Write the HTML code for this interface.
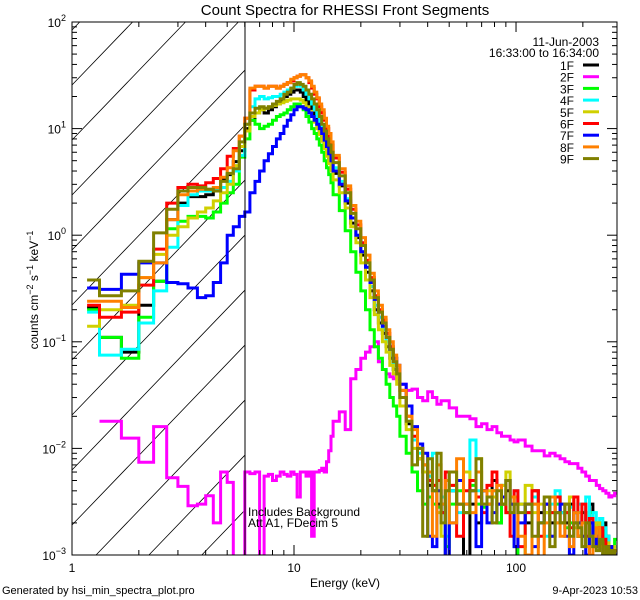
<!DOCTYPE html>
<html><head><meta charset="utf-8"><style>
html,body{margin:0;padding:0;background:#fff;width:640px;height:600px;overflow:hidden;}
svg{display:block;font-family:"Liberation Sans",sans-serif;}
</style></head><body>
<svg id="chart" width="640" height="600" viewBox="0 0 640 600" xmlns="http://www.w3.org/2000/svg">
<rect x="0" y="0" width="640" height="600" fill="#fff"/>
<defs>
<clipPath id="plotclip"><rect x="72" y="22" width="545" height="533"/></clipPath>
</defs>
<text x="345" y="15" font-size="15" text-anchor="middle">Count Spectra for RHESSI Front Segments</text>
<g id="hatch"></g>
<g id="series" clip-path="url(#plotclip)"></g>
<g id="axes"></g>
<text x="345" y="587" font-size="12" text-anchor="middle">Energy (keV)</text>
<text transform="translate(38,290) rotate(-90)" font-size="12" text-anchor="middle">counts cm<tspan baseline-shift="super" font-size="9">−2</tspan> s<tspan baseline-shift="super" font-size="9">−1</tspan> keV<tspan baseline-shift="super" font-size="9">−1</tspan></text>
<text x="2" y="594" font-size="11">Generated by hsi_min_spectra_plot.pro</text>
<text x="638" y="594" font-size="11" text-anchor="end">9-Apr-2023 10:53</text>
<text x="248" y="516" font-size="12">Includes Background</text>
<text x="248" y="527" font-size="12">Att A1, FDecim 5</text>
<g id="legend"></g>
</svg>
<script>
const edges=[1.17,1.33,1.67,2,2.33,2.67,3,3.33,3.67,4,4.33,4.67,5,5.33,5.67,6,6.33,6.67,7,7.33,7.67,8,8.33,8.67,9,9.33,9.67,10,10.33,10.67,11,11.33,11.67,12,12.33,12.67,13,13.33,13.67,14,14.33,14.67,15,16,17,18,19,20,21,22,23,24,25,26,27,28,29,30,32,34,36,38,40,42,44,46,48,50,54,58,62,66,70,74,78,82,86,90,94,98,102,110,118,126,134,142,150,158,166,174,182,190,198,206,214,222,230,238,246,254,262,270,278,286];
const seriesNames=["1F","2F","3F","4F","5F","6F","7F","8F","9F"];
const seriesColors=["#000000","#ff00ff","#00ff00","#00ffff","#d0d000","#ff0000","#0000ff","#ff8000","#808000"];
const s1F=[0.21,0.11,0.08,0.22,0.37,1.4,2.0,2.3,2.3,2.4,2.6,3.3,3.7,4.9,6.2,
10,12,14,15,14,15,16,17,18,20,21,22,23,23,22,20,18,16,14,12.5,11,9.5,8.5,7.3,6.2,5.3,4.5,
3.8,2.9,2.0,1.3,0.95,0.65,0.45,0.3,0.2,0.15,0.12,0.09,0.07,0.055,0.045,
0.03,0.017,0.012,0.008,0.006,0.0045,0.004,0.003,0.0025,0.0009,
0.004,0.003,0.0008,0.003,0.002,0.004,0.003,0.005,0.002,0.003,0.004,0.003,0.0035,
0.003,0.002,0.004,0.0025,0.003,0.002,0.0035,0.0025,0.002,0.003,0.002,0.0015,0.0025,0.002,0.003,0.0015,0.002,0.0012,0.002,0.0015,0.001,0.0012,0.001];
const s2F=[null,0.018,0.0125,0.0074,0.016,0.0053,0.0044,0.0029,0.003,0.0036,0.002,0.006,0.0048,0.0008,0.0009,
0.006,0.0058,0.006,0.0006,0.0055,0.0057,0.005,0.0055,0.006,0.0057,0.0055,0.006,0.0057,0.0035,0.006,0.006,0.0055,0.006,0.0015,0.006,0.006,0.0062,0.0065,0.006,0.0075,0.0095,0.013,
0.018,0.022,0.015,0.045,0.055,0.07,0.08,0.09,0.1,0.065,0.055,0.05,0.047,0.045,0.046,
0.04,0.035,0.036,0.03,0.028,0.034,0.03,0.026,0.028,0.028,
0.024,0.02,0.02,0.019,0.016,0.017,0.015,0.016,0.014,0.013,0.013,0.012,0.0115,
0.012,0.0105,0.0095,0.0095,0.0085,0.009,0.0085,0.008,0.0075,0.0072,0.0072,0.0065,0.006,0.0055,0.005,0.005,0.0045,0.0042,0.004,0.0038,0.0035,0.0036,0.0038];
const s3F=[0.2,0.11,0.07,0.17,0.37,1.15,1.35,1.5,1.5,1.45,1.65,2.0,2.5,3.0,5.4,
8,12,11,10,10.5,11,12,13,13.5,14,15,16,17,17,16,15,13,11.5,10,9,8,7,6,5,4.3,3.7,3.1,
2.4,1.7,1.1,0.7,0.45,0.3,0.2,0.13,0.09,0.07,0.055,0.04,0.03,0.025,0.02,
0.013,0.009,0.006,0.004,0.003,0.0035,0.003,0.0028,0.0025,0.0012,
0.003,0.004,0.0025,0.0045,0.003,0.0028,0.0035,0.004,0.002,0.003,0.0025,0.003,0.0012,
0.0009,0.0025,0.003,0.002,0.0025,0.0025,0.003,0.002,0.0018,0.002,0.0025,0.0015,0.002,0.0012,0.0025,0.0015,0.0012,0.0018,0.001,0.0012,0.0011,0.0012,0.0014];
const s4F=[0.19,0.075,0.085,0.15,0.3,0.77,1.9,2.4,2.6,2.6,2.7,2.8,3.2,4.0,5.6,
11,16,19,20,19,19.5,20,20,21,22,23,24,25,26,25,23,21,19,17,15,13,11,9.5,8,7,6,5.2,
4.3,3.2,2.2,1.45,1.0,0.7,0.5,0.33,0.22,0.17,0.13,0.1,0.075,0.06,0.05,
0.03,0.018,0.012,0.009,0.007,0.0055,0.009,0.004,0.0035,0.0015,
0.004,0.0025,0.003,0.012,0.004,0.003,0.0035,0.004,0.003,0.0045,0.005,0.003,0.004,
0.003,0.0025,0.0035,0.002,0.0015,0.003,0.004,0.0025,0.003,0.0028,0.0025,0.003,0.002,0.0035,0.002,0.0025,0.0015,0.0022,0.0018,0.0015,0.0012,0.0012,0.001];
const s5F=[0.14,0.2,0.22,0.4,0.66,1.0,1.2,1.45,1.65,1.8,2.1,2.5,3.0,4.5,6.8,
9.5,13,14,15,15.5,16,16.5,17,17.5,18,18.5,19,19,19,18.5,17.5,16,14.5,13,11.5,10,8.8,7.6,6.5,5.5,4.7,4,
3.3,2.5,1.8,1.2,0.85,0.55,0.38,0.26,0.18,0.13,0.1,0.08,0.06,0.05,0.04,
0.025,0.015,0.01,0.008,0.006,0.005,0.0045,0.0025,0.0015,0.004,
0.0045,0.003,0.006,0.004,0.008,0.003,0.004,0.0035,0.003,0.0045,0.006,0.003,0.0035,
0.003,0.0045,0.0025,0.003,0.0025,0.0015,0.002,0.003,0.0025,0.0035,0.0018,0.0025,0.0015,0.002,0.0012,0.0015,0.002,0.0012,0.0011,0.0013,0.001,0.0012,0.0011];
const s6F=[0.22,0.17,0.19,0.34,0.74,2.0,2.8,3.0,2.9,3.1,3.4,4.2,5.5,6.5,8.5,
12.5,23,25,25,24,25,25,24,25,26,27,28,30,31,32,32,30,27,24,21,19,16,14,12,10,8.5,7,
5.3,3.9,2.7,1.75,1.25,0.85,0.58,0.4,0.27,0.2,0.16,0.12,0.09,0.07,0.06,
0.035,0.02,0.013,0.01,0.007,0.005,0.0045,0.005,0.0025,0.006,
0.0045,0.0015,0.004,0.005,0.0035,0.0025,0.0045,0.006,0.003,0.003,0.0025,0.0015,0.004,
0.0012,0.0025,0.004,0.0015,0.003,0.0025,0.0035,0.002,0.0025,0.0018,0.0035,0.002,0.003,0.0015,0.0022,0.0015,0.0012,0.0018,0.0014,0.001,0.0012,0.0011,0.001];
const s7F=[0.32,0.31,0.43,0.55,0.55,0.36,0.35,0.32,0.26,0.27,0.36,0.55,1.0,1.2,1.5,
1.65,2.5,3.2,4.0,5.0,5.8,6.8,8,9,10.5,12,13.5,15,16,16,15.5,15,14,13,12,11,10,9,7.8,6.8,5.8,5.0,
4.0,3.0,2.1,1.45,1.0,0.7,0.5,0.36,0.25,0.19,0.14,0.11,0.085,0.07,0.06,
0.04,0.025,0.016,0.011,0.009,0.0015,0.0012,0.004,0.003,0.0009,
0.002,0.005,0.003,0.004,0.0012,0.004,0.002,0.0025,0.003,0.0035,0.005,0.003,0.0012,
0.002,0.003,0.0012,0.002,0.003,0.0015,0.0025,0.003,0.0015,0.001,0.0025,0.002,0.0015,0.001,0.002,0.0012,0.0015,0.0012,0.0009,0.001,0.0012,0.0009,0.001];
const s8F=[0.24,0.24,0.21,0.4,0.55,1.4,2.4,2.6,2.7,2.7,2.8,3.5,4.3,6.2,8.5,
12.5,24,25,25,24,25,25,24,25,26,27,29,30,31,32,32,30,28,25,22,19.5,17,15,12.5,10.5,9,7.5,
5.6,4.2,2.9,1.9,1.35,0.95,0.65,0.44,0.3,0.22,0.17,0.13,0.1,0.075,0.06,
0.035,0.02,0.015,0.01,0.007,0.006,0.0015,0.007,0.003,0.005,
0.002,0.008,0.003,0.0025,0.006,0.004,0.003,0.004,0.0045,0.003,0.005,0.0035,0.003,
0.0015,0.001,0.003,0.0009,0.002,0.0035,0.002,0.0015,0.003,0.0012,0.0025,0.0015,0.002,0.0012,0.001,0.0015,0.0018,0.0012,0.001,0.0009,0.0011,0.001,0.0009];
const s9F=[0.38,0.27,0.3,0.57,1.05,1.75,2.6,2.8,2.8,2.7,2.6,3.2,3.8,4.2,7.5,
11,14,15.5,16,15.5,16,17,18,19,21,22,24,26,27,26,25,23,21,19,17,15,13,11,9.5,8,7,6,
4.8,3.6,2.5,1.6,1.15,0.8,0.55,0.38,0.26,0.19,0.15,0.11,0.085,0.065,0.05,
0.03,0.018,0.007,0.01,0.0015,0.008,0.004,0.009,0.002,0.004,
0.006,0.003,0.0025,0.004,0.008,0.003,0.0035,0.002,0.004,0.003,0.005,0.0025,0.003,
0.0025,0.003,0.0015,0.002,0.0035,0.0012,0.0025,0.002,0.003,0.0015,0.002,0.0018,0.0012,0.002,0.0015,0.0012,0.0011,0.0014,0.001,0.0012,0.001,0.0011,0.0009];
const seriesData=[s1F,s2F,s3F,s4F,s5F,s6F,s7F,s8F,s9F];
const xTickLabels=["1","10","100"];
const xTickValues=[1,10,100];
const yTickExps=[-3,-2,-1,0,1,2];

const NS="http://www.w3.org/2000/svg";
const X0=72,X1=617,Y0=22,Y1=555;
const XMIN=1,XMAX=285,YMIN=-3,YMAX=2;
function xs(e){return X0+(Math.log10(e)-Math.log10(XMIN))/(Math.log10(XMAX)-Math.log10(XMIN))*(X1-X0);}
function ys(v){let l=Math.log10(Math.max(v,1e-6));return Y1-(l-YMIN)/(YMAX-YMIN)*(Y1-Y0);}
function mk(tag,attrs,parent){const el=document.createElementNS(NS,tag);for(const k in attrs)el.setAttribute(k,attrs[k]);parent.appendChild(el);return el;}

const hatch=document.getElementById('hatch');
const HX1=245,SL=1.04;
for(let k=-3;k<=13;k++){
  const y0=85+55*k;
  let xa=72,ya=y0;
  if(ya>Y1){xa=72+(ya-Y1)/SL;ya=Y1;}
  let xb=HX1,yb=y0-SL*(HX1-72);
  if(yb<Y0){xb=72+(y0-Y0)/SL;yb=Y0;}
  if(xa>=HX1||xb<=72||xb<=xa)continue;
  const l=mk('line',{x1:xa,y1:ya,x2:xb,y2:yb,stroke:'#000','stroke-width':0.8},hatch);
  
  
}
const vline=mk('line',{x1:245,y1:22,x2:245,y2:555,stroke:'#000','stroke-width':1},hatch.parentNode);



const sg=document.getElementById('series');
seriesData.forEach((vals,si)=>{
  let d="",pen=false;
  for(let i=0;i<vals.length;i++){
    const v=vals[i];
    if(v===null){pen=false;continue;}
    const xa=xs(edges[i]),xb=xs(edges[i+1]),y=Math.min(ys(v),Y1+2);
    d+=(pen?"L":"M")+xa.toFixed(1)+" "+y.toFixed(1)+"L"+xb.toFixed(1)+" "+y.toFixed(1);
    pen=true;
  }
  const p=mk('path',{d:d,fill:'none',stroke:seriesColors[si],'stroke-width':3,'stroke-linejoin':'miter'},sg);
  
  
});

const ax=document.getElementById('axes');
const frame=mk('rect',{x:X0,y:Y0,width:X1-X0,height:Y1-Y0,fill:'none',stroke:'#000','stroke-width':1},ax);


for(let dec=1;dec<=100;dec*=10){
  for(let m=1;m<10;m++){
    const e=dec*m; if(e>XMAX)break;
    const x=xs(e),len=(m===1)?10:5;
    const t1=mk('line',{x1:x,y1:Y1,x2:x,y2:Y1-len,stroke:'#000'},ax);
    
    
    const t2=mk('line',{x1:x,y1:Y0,x2:x,y2:Y0+len,stroke:'#000'},ax);
    
    
  }
}
xTickValues.forEach((v,i)=>{
  const t=mk('text',{x:xs(v),y:572,'font-size':12,'text-anchor':'middle'},ax);
  t.textContent=xTickLabels[i];
  
  
});
for(let ex=YMIN;ex<YMAX;ex++){
  for(let m=1;m<10;m++){
    const y=ys(m*Math.pow(10,ex)),len=(m===1)?10:5;
    const t1=mk('line',{x1:X0,y1:y,x2:X0+len,y2:y,stroke:'#000'},ax);
    
    
    const t2=mk('line',{x1:X1,y1:y,x2:X1-len,y2:y,stroke:'#000'},ax);
    
    
  }
}
yTickExps.forEach(ex=>{
  const y=ys(Math.pow(10,ex));
  const t=mk('text',{x:66,y:y+5,'font-size':12,'text-anchor':'end'},ax);
  
  
  const a=document.createElementNS(NS,'tspan');a.textContent="10";t.appendChild(a);
  const b=document.createElementNS(NS,'tspan');b.setAttribute('font-size','9');b.setAttribute('dy','-6');b.textContent=(ex<0?"−":"")+Math.abs(ex);t.appendChild(b);
});

const lg=document.getElementById('legend');
const d1=mk('text',{x:599,y:46,'font-size':12,'text-anchor':'end'},lg);d1.textContent="11-Jun-2003";


const d2=mk('text',{x:599,y:57,'font-size':12,'text-anchor':'end'},lg);d2.textContent="16:33:00 to 16:34:00";


seriesNames.forEach((n,i)=>{
  const y=65+11.7*i;
  const t=mk('text',{x:574,y:y+5,'font-size':12,'text-anchor':'end'},lg);t.textContent=n;
  
  
  const l=mk('line',{x1:583,y1:y,x2:599,y2:y,stroke:seriesColors[i],'stroke-width':3},lg);
  
  
});
</script>
</body></html>
